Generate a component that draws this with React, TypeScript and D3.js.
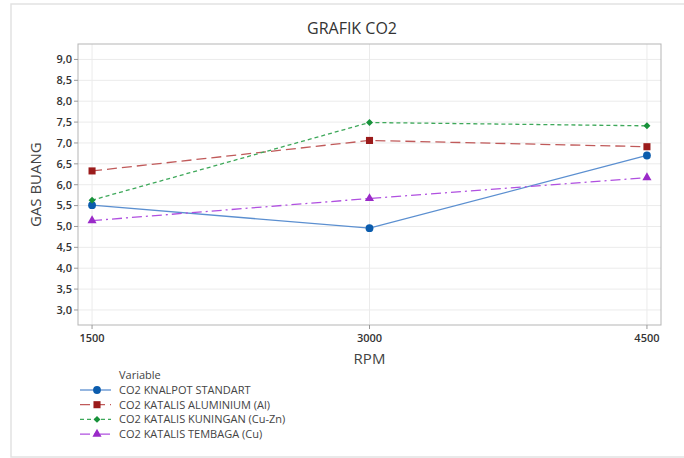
import React from 'react';
import * as d3 from 'd3';

const rpm = [1500, 3000, 4500];
const standart = [5.51, 4.96, 6.7];
const aluminium = [6.33, 7.06, 6.91];
const kuningan = [5.63, 7.49, 7.41];
const tembaga = [5.14, 5.67, 6.17];
const yTicks = [3, 3.5, 4, 4.5, 5, 5.5, 6, 6.5, 7, 7.5, 8, 8.5, 9];

const seriesNames = [
  'CO2 KNALPOT STANDART',
  'CO2 KATALIS ALUMINIUM (Al)',
  'CO2 KATALIS KUNINGAN (Cu-Zn)',
  'CO2 KATALIS TEMBAGA (Cu)',
];

const styles = [
  { line: '#5b8fd0', fill: '#0b5cad', dash: '', marker: 'circle', size: 48, rot: 0 },
  { line: '#c05a5a', fill: '#9b1b1b', dash: '10,5', marker: 'square', size: 50, rot: 0 },
  { line: '#3ea85a', fill: '#17913a', dash: '4,3', marker: 'square', size: 24, rot: 45 },
  { line: '#b050e0', fill: '#9a2ac8', dash: '10,4,2,4', marker: 'triangle', size: 36, rot: 0 },
];

const symbolFor = (m: string) =>
  m === 'circle' ? d3.symbolCircle : m === 'square' ? d3.symbolSquare : d3.symbolTriangle;

const fmt = (v: number) => v.toFixed(1).replace('.', ',');

const App = () => {
  const width = 684;
  const height = 458;
  const margin = { top: 44, right: 23, bottom: 133, left: 78 };
  const font = "'Open Sans', 'Noto Sans', sans-serif";

  const x = d3.scaleLinear().domain([1424, 4576]).range([margin.left, width - margin.right]);
  const y = d3.scaleLinear().domain([2.64, 9.37]).range([height - margin.bottom, margin.top]);

  const allSeries = [standart, aluminium, kuningan, tembaga];
  const line = d3.line<number>().x((_, i) => x(rpm[i])).y(d => y(d));
  const marker = (i: number) => d3.symbol(symbolFor(styles[i].marker), styles[i].size)() || '';

  return (
    <svg width={width} height={height} style={{ position: 'absolute', left: 0, top: 0, background: '#fff' }} fontFamily={font}>
      <rect x={11} y={4} width={width} height={453} fill="none" stroke="#e2e2e2" strokeWidth={1.5} />
      <text x={352} y={34} textAnchor="middle" fontSize={16} fill="#333">GRAFIK CO2</text>

      {/* grid */}
      {yTicks.map(t => (
        <line key={'gy' + t} x1={margin.left} x2={width - margin.right} y1={y(t)} y2={y(t)} stroke="#ebebeb" />
      ))}
      {rpm.map(t => (
        <line key={'gx' + t} x1={x(t)} x2={x(t)} y1={margin.top} y2={height - margin.bottom} stroke="#ebebeb" />
      ))}
      <rect x={margin.left} y={margin.top} width={width - margin.left - margin.right} height={height - margin.top - margin.bottom} fill="none" stroke="#b5b5b5" />

      {/* y axis */}
      {yTicks.map(t => (
        <g key={'ty' + t}>
          <line x1={margin.left - 4} x2={margin.left} y1={y(t)} y2={y(t)} stroke="#999" />
          <text x={margin.left - 6} y={y(t)} dy="0.35em" textAnchor="end" fontSize={11} fontWeight={600} fill="#333">{fmt(t)}</text>
        </g>
      ))}
      <text transform={`translate(41,${y(6)}) rotate(-90)`} textAnchor="middle" fontSize={15} fill="#444">GAS BUANG</text>

      {/* x axis */}
      {rpm.map(t => (
        <g key={'tx' + t}>
          <line x1={x(t)} x2={x(t)} y1={height - margin.bottom} y2={height - margin.bottom + 4} stroke="#999" />
          <text x={x(t)} y={height - margin.bottom + 17} textAnchor="middle" fontSize={11} fontWeight={600} fill="#333">{t}</text>
        </g>
      ))}
      <text x={x(3000)} y={364} textAnchor="middle" fontSize={15} fill="#444">RPM</text>

      {/* series */}
      {allSeries.map((s, i) => (
        <g key={'s' + i}>
          <path d={line(s) || ''} fill="none" stroke={styles[i].line} strokeWidth={1.3} strokeDasharray={styles[i].dash} />
          {s.map((v, j) => (
            <path key={j} transform={`translate(${x(rpm[j])},${y(v)}) rotate(${styles[i].rot})`} d={marker(i)} fill={styles[i].fill} />
          ))}
        </g>
      ))}

      {/* legend */}
      <text x={119} y={379} fontSize={11} fill="#444">Variable</text>
      {seriesNames.map((n, i) => {
        const ly = 390 + i * 14.7;
        return (
          <g key={'l' + i}>
            <line x1={80} x2={111} y1={ly} y2={ly} stroke={styles[i].line} strokeWidth={1.3} strokeDasharray={styles[i].dash} />
            <path transform={`translate(97,${ly}) rotate(${styles[i].rot})`} d={marker(i)} fill={styles[i].fill} />
            <text x={119} y={ly} dy="0.35em" fontSize={11} fill="#444">{n}</text>
          </g>
        );
      })}
    </svg>
  );
};

export default App;
